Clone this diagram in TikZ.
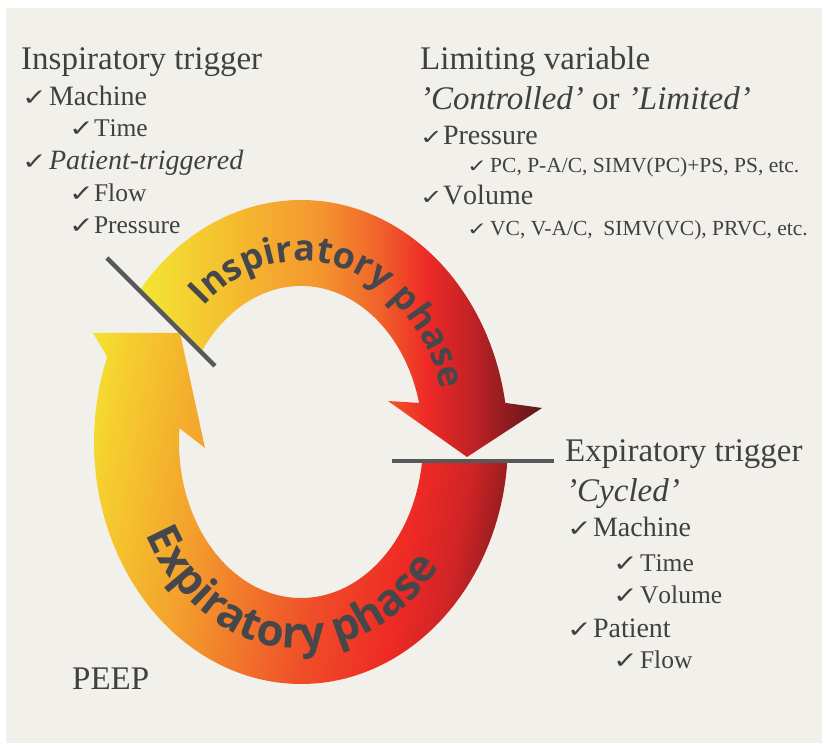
\documentclass[tikz,border=0pt]{standalone}
\usepackage{fontspec}
\usepackage{graphicx}
\setmainfont{Liberation Serif}
\newfontfamily\bodyfont{Liberation Serif}[Ligatures=TeX]
\newfontfamily\checkfont{DejaVu Sans}
\newfontfamily\phasefont{Open Sans}
\usetikzlibrary{decorations.text}

\definecolor{PaperColor}{HTML}{F2F0EA}
\definecolor{TextGray}{HTML}{404040}
\definecolor{PhaseGray}{HTML}{46474A}
\definecolor{CutGray}{HTML}{58585A}
\definecolor{InspYellow}{HTML}{F3E633}
\definecolor{InspAmber}{HTML}{F5B82E}
\definecolor{InspOrange}{HTML}{F49530}
\definecolor{InspVermilion}{HTML}{F0612A}
\definecolor{InspRed}{HTML}{EE2A26}
\definecolor{InspCrimson}{HTML}{C22226}
\definecolor{InspMaroon}{HTML}{5C1719}
\definecolor{ExpYellow}{HTML}{F4E231}
\definecolor{ExpGold}{HTML}{F5CF2E}
\definecolor{ExpAmber}{HTML}{F4A52D}
\definecolor{ExpVermilion}{HTML}{EF4E29}
\definecolor{ExpRed}{HTML}{EE2A25}
\definecolor{ExpCrimson}{HTML}{D02426}
\definecolor{ExpMaroon}{HTML}{A01E20}

\pgfdeclarehorizontalshading{InspShading}{100bp}{color(0bp)=(InspYellow); color(34bp)=(InspYellow); color(44bp)=(InspAmber); color(52bp)=(InspOrange); color(58bp)=(InspVermilion); color(62.5bp)=(InspRed); color(67bp)=(InspCrimson); color(74bp)=(InspMaroon); color(100bp)=(InspMaroon)}
\pgfdeclarehorizontalshading{ExpShading}{100bp}{color(0bp)=(ExpYellow); color(27.7bp)=(ExpYellow); color(31bp)=(ExpGold); color(39.7bp)=(ExpAmber); color(54bp)=(ExpVermilion); color(62.4bp)=(ExpRed); color(67.4bp)=(ExpCrimson); color(70.6bp)=(ExpMaroon); color(100bp)=(ExpMaroon)}

\newcommand\BigCheckGlyph{\scalebox{1.85}[1.45]{✓}}
\newcommand\MidCheckGlyph{\scalebox{1.7}[1.3]{✓}}
\newcommand\SmallCheckGlyph{\scalebox{1.5}[1.15]{✓}}
\newcommand\InspPhaseFont{\phasefont\bfseries\fontsize{36}{36}\selectfont\color{PhaseGray}}
\newcommand\ExpPhaseFont{\phasefont\bfseries\fontsize{44}{44}\selectfont\color{PhaseGray}}
\newcommand\ItemOneFont{\bodyfont\fontsize{28}{28}\selectfont\color{TextGray}}
\newcommand\ItemOneItalicFont{\bodyfont\itshape\fontsize{28}{28}\selectfont\color{TextGray}}
\newcommand\ItemTwoFont{\bodyfont\fontsize{25.5}{25.5}\selectfont\color{TextGray}}

\begin{document}
\begin{tikzpicture}[x=1pt,y=1pt,
		textline/.style={anchor=base west, inner sep=0pt, text=TextGray, font=\bodyfont\fontsize{33}{33}\selectfont},
		headline/.style={textline},
		itemsmall/.style={textline, font=\bodyfont\fontsize{21.5}{21.5}\selectfont},
		tick/.style={textline, font=\checkfont\fontsize{16}{16}\selectfont},
		itemone/.style={decorate, decoration={text along path, text={|\ItemOneFont|#1}}},
		itemoneitalic/.style={decorate, decoration={text along path, text={|\ItemOneItalicFont|#1}}},
		itemtwo/.style={decorate, decoration={text along path, text={|\ItemTwoFont|#1}}},
		cutline/.style={CutGray, line width=4.5pt}]
	\pgfmathsetmacro{\OuterRadiusX}{207}
	\pgfmathsetmacro{\OuterRadiusY}{242}
	\pgfmathsetmacro{\InnerRadiusX}{122}
	\pgfmathsetmacro{\InnerRadiusY}{156}
	\useasboundingbox (0,0) rectangle (827,746);
	\fill[white] (0,0) rectangle (827,746);
	\fill[PaperColor] (6,3) rectangle (822,738);
	\coordinate (CenterPoint) at (301,304);

	\begin{scope}[shift={(CenterPoint)}]
		% expiratory arrow, from the cycle point round the bottom
		\begin{scope}
			\clip (-4.5:\OuterRadiusX pt and \OuterRadiusY pt)
				arc[start angle=-4.5, end angle=-200.6, x radius=\OuterRadiusX pt, y radius=\OuterRadiusY pt]
				-- (-208,109) -- (-121,109) -- (-96,-6)
				-- (-185.1:\InnerRadiusX pt and \InnerRadiusY pt)
				arc[start angle=-185.1, end angle=-7, x radius=\InnerRadiusX pt, y radius=\InnerRadiusY pt] -- cycle;
			\shade[shading=ExpShading, shading angle=-10] (-250,-250) rectangle (250,250);
		\end{scope}
		% inspiratory arrow, over the top
		\begin{scope}
			\clip (141.3:\OuterRadiusX pt and \OuterRadiusY pt)
				arc[start angle=141.3, end angle=9.3, x radius=\OuterRadiusX pt, y radius=\OuterRadiusY pt]
				-- (241,34) -- (166,-15) -- (87,41)
				-- (14.5:\InnerRadiusX pt and \InnerRadiusY pt)
				arc[start angle=14.5, end angle=144.9, x radius=\InnerRadiusX pt, y radius=\InnerRadiusY pt] -- cycle;
			\shade[shading=InspShading] (-250,-250) rectangle (250,250);
		\end{scope}

		\path[decorate, decoration={text along path, text align=center, text={|\InspPhaseFont|Inspiratory phase}}]
			(168:147pt and 181pt) arc[start angle=168, end angle=-18, x radius=147pt, y radius=181pt];
		\path[decorate, decoration={text along path, text align=center, text={|\ExpPhaseFont|Expiratory phase}}]
			(171:173pt and 207pt) arc[start angle=171, end angle=359, x radius=173pt, y radius=207pt];

		\coordinate (InspCutA) at (-194,184);
		\coordinate (InspCutB) at (-86,76);
		\coordinate (ExpCutA) at (91,-19);
		\coordinate (ExpCutB) at (253,-19);
		\draw[cutline] (InspCutA) -- (InspCutB);
		\draw[cutline] (ExpCutA) -- (ExpCutB);
	\end{scope}

	\node[headline] (InspTrigger) at (21,676) {Inspiratory trigger};
	\node[tick] (InspMachineTick) at (22,640) {\BigCheckGlyph};
	\path[itemone=Machine] (49,640) -- ++(300,0);
	\node[tick] (InspTimeTick) at (69,609) {\BigCheckGlyph};
	\path[itemtwo=Time] (94,609) -- ++(300,0);
	\node[tick] (InspPatientTick) at (22,576) {\BigCheckGlyph};
	\path[itemoneitalic=Patient-triggered] (49,576) -- ++(300,0);
	\node[tick] (InspFlowTick) at (69,544) {\BigCheckGlyph};
	\path[itemtwo=Flow] (94,544) -- ++(300,0);
	\node[tick] (InspPressureTick) at (69,512) {\BigCheckGlyph};
	\path[itemtwo=Pressure] (94,512) -- ++(300,0);

	\node[headline] (LimitVar) at (420,676) {Limiting variable};
	\node[headline] (LimitKind) at (420,636) {\textit{'Controlled'} or \textit{'Limited'}};
	\node[tick] (LimitPressureTick) at (420,601) {\MidCheckGlyph};
	\path[itemone=Pressure] (443,601) -- ++(300,0);
	\node[tick] (LimitPressureModesTick) at (467,573) {\SmallCheckGlyph};
	\node[itemsmall] (LimitPressureModes) at (490,573) {PC, P-A/C, SIMV(PC)+PS, PS, etc.};
	\node[tick] (LimitVolumeTick) at (420,541) {\MidCheckGlyph};
	\path[itemone=Volume] (443,541) -- ++(300,0);
	\node[tick] (LimitVolumeModesTick) at (467,510) {\SmallCheckGlyph};
	\node[itemsmall] (LimitVolumeModes) at (490,510) {VC, V-A/C,\ \ SIMV(VC), PRVC, etc.};

	\node[headline] (ExpTrigger) at (565,284) {Expiratory trigger};
	\node[headline] (ExpCycled) at (566,244) {\textit{'Cycled'}};
	\node[tick] (ExpMachineTick) at (567,209) {\BigCheckGlyph};
	\path[itemone=Machine] (593,209) -- ++(220,0);
	\node[tick] (ExpTimeTick) at (613,174) {\BigCheckGlyph};
	\path[itemtwo=Time] (640,174) -- ++(170,0);
	\node[tick] (ExpVolumeTick) at (613,142) {\BigCheckGlyph};
	\path[itemtwo=Volume] (640,142) -- ++(170,0);
	\node[tick] (ExpPatientTick) at (567,108) {\BigCheckGlyph};
	\path[itemone=Patient] (593,108) -- ++(220,0);
	\node[tick] (ExpFlowTick) at (613,77) {\BigCheckGlyph};
	\path[itemtwo=Flow] (640,77) -- ++(170,0);

	\node[headline] (Peep) at (72,56) {PEEP};
\end{tikzpicture}
\end{document}
